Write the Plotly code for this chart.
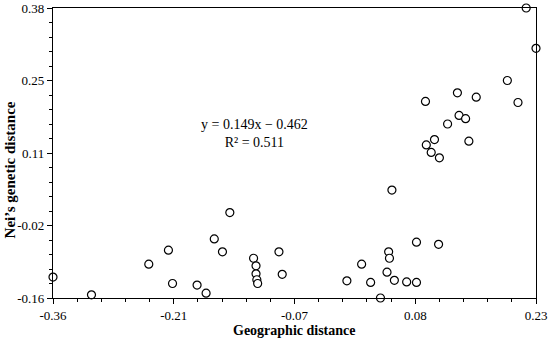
import plotly.graph_objects as go

geo_dist = [0.218, 0.230, 0.195, 0.095, 0.134, 0.157, 0.208, 0.122, 0.136, 0.144,
            0.096, 0.106, 0.102, 0.148, 0.112, 0.054, 0.084, 0.111, 0.050, 0.051,
            0.017, 0.048, -0.001, 0.028, 0.057, 0.072, 0.084, 0.040, -0.084, -0.080,
            -0.360, -0.313, -0.243, -0.219, -0.214, -0.184, -0.173, -0.163, -0.153, -0.144,
            -0.115, -0.112, -0.112, -0.111, -0.110]
nei_dist = [0.380, 0.305, 0.245, 0.206, 0.222, 0.214, 0.204, 0.164, 0.180, 0.174,
            0.125, 0.135, 0.111, 0.132, 0.101, 0.041, -0.056, -0.060, -0.074, -0.086,
            -0.097, -0.112, -0.128, -0.131, -0.127, -0.130, -0.131, -0.160, -0.074, -0.116,
            -0.121, -0.154, -0.097, -0.071, -0.133, -0.136, -0.151, -0.050, -0.074, -0.001,
            -0.086, -0.100, -0.115, -0.126, -0.133]

x_tickvals = [-0.36, -0.2125, -0.065, 0.0825, 0.23]
x_ticktext = ["-0.36", "-0.21", "-0.07", "0.08", "0.23"]
y_tickvals = [-0.16, -0.025, 0.11, 0.245, 0.38]
y_ticktext = ["-0.16", "-0.02", "0.11", "0.25", "0.38"]

eq_text = "y = 0.149x − 0.462<br>R² = 0.511"
x_title = "Geographic distance"
y_title = "Nei’s genetic distance"

font_family = "Liberation Serif, Times New Roman, serif"

fig = go.Figure()
fig.add_trace(go.Scatter(
    x=geo_dist, y=nei_dist, mode="markers",
    marker=dict(symbol="circle", size=8, color="white",
                line=dict(color="black", width=1.2)),
    cliponaxis=False, showlegend=False, hoverinfo="skip",
))

fig.add_annotation(
    x=-0.114, y=0.146, xref="x", yref="y", text=eq_text, showarrow=False,
    align="center", font=dict(family=font_family, size=14, color="black"),
)
fig.add_annotation(
    x=0.5, y=-0.112, xref="paper", yref="paper", text="<b>" + x_title + "</b>",
    showarrow=False, xanchor="center", yanchor="middle",
    font=dict(family=font_family, size=14, color="black"),
)
fig.add_annotation(
    x=0, xshift=-43, y=0.44, xref="paper", yref="paper", text="<b>" + y_title + "</b>",
    showarrow=False, xanchor="center", yanchor="middle", textangle=-90,
    font=dict(family=font_family, size=15, color="black"),
)

axis_common = dict(
    showline=True, linecolor="black", linewidth=1.2, mirror=True,
    ticks="outside", ticklen=5, tickwidth=1, tickcolor="black",
    showgrid=False, zeroline=False, automargin=False,
    tickfont=dict(family=font_family, size=13, color="black"),
    tickmode="array",
)

fig.update_xaxes(
    **axis_common, range=[-0.36, 0.23], tickvals=x_tickvals, ticktext=x_ticktext,
    minor=dict(ticks="outside", ticklen=3, tickcolor="black", tickwidth=1,
               tick0=-0.36, dtick=0.0295, showgrid=False),
)
fig.update_yaxes(
    **axis_common, range=[-0.16, 0.38], tickvals=y_tickvals, ticktext=y_ticktext,
    minor=dict(ticks="outside", ticklen=3, tickcolor="black", tickwidth=1,
               tick0=-0.16, dtick=0.027, showgrid=False),
)

fig.update_layout(
    width=550, height=340,
    margin=dict(l=53, r=14, t=8, b=42),
    plot_bgcolor="white", paper_bgcolor="white",
    font=dict(family=font_family, color="black"),
)

fig.write_html("out.html", config={"displayModeBar": False},
               post_script="document.body.style.margin='0';")
